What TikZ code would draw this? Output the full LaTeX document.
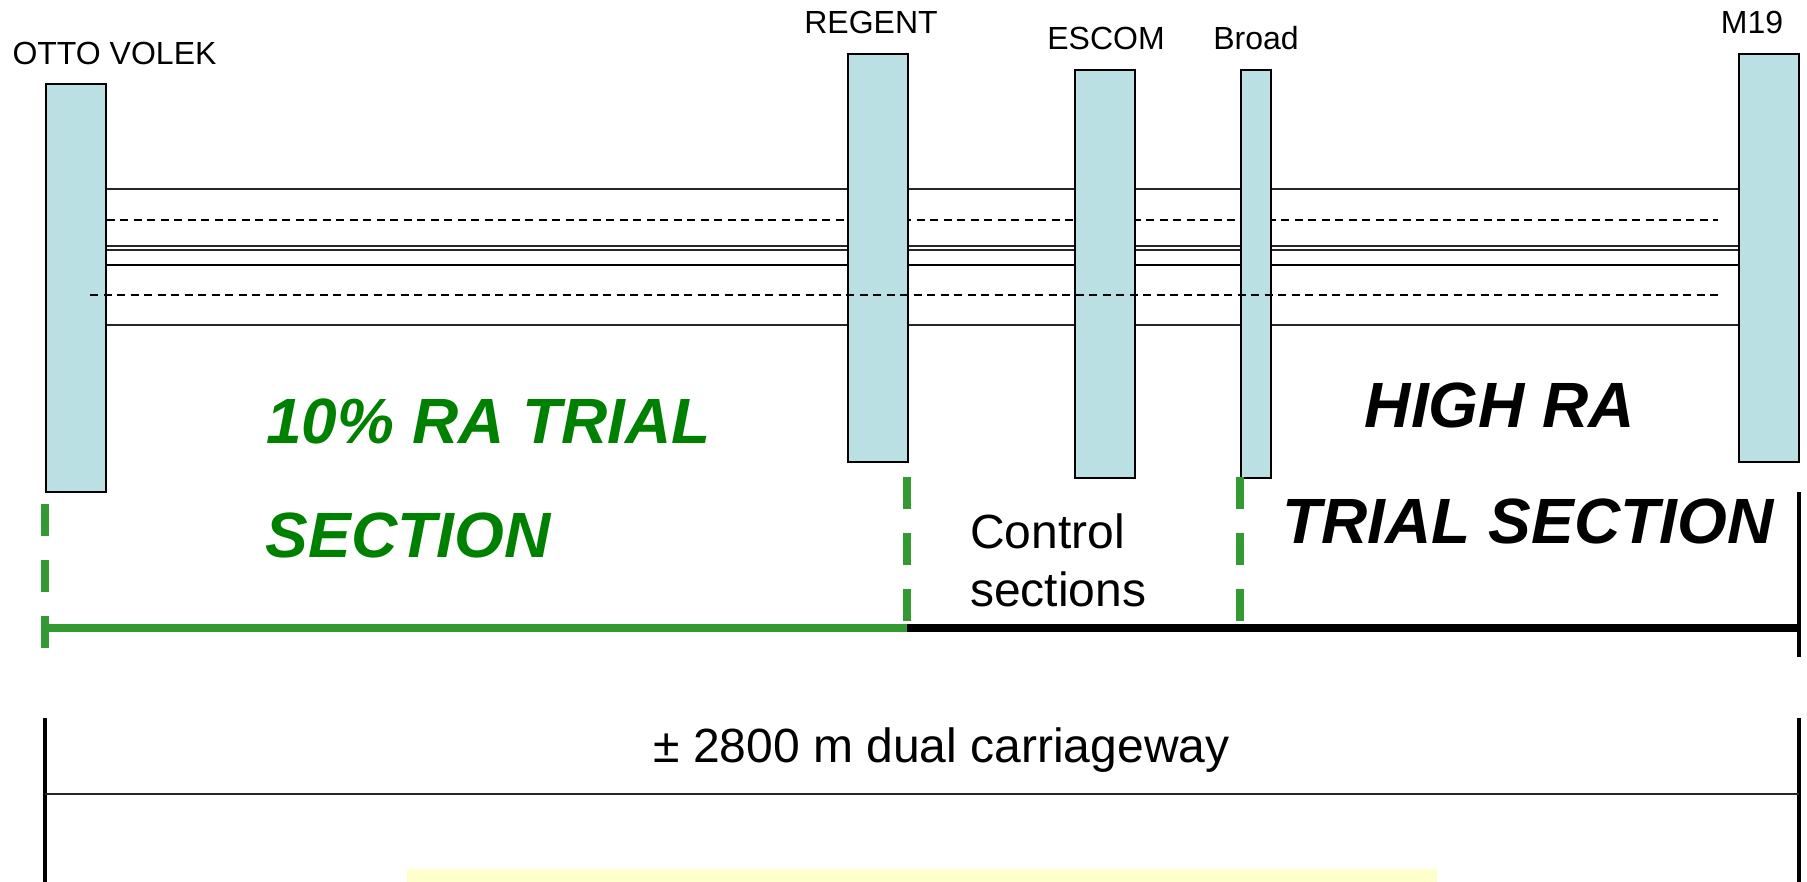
\documentclass[tikz,border=0pt]{standalone}
\usepackage{fontspec}
\setmainfont{Liberation Sans}
\usetikzlibrary{backgrounds}
\definecolor{boxblue}{RGB}{186,224,227}
\definecolor{lgreen}{RGB}{51,153,51}
\definecolor{tgreen}{RGB}{0,128,0}
\definecolor{lyellow}{RGB}{255,255,204}
\begin{document}
\begin{tikzpicture}[x=1pt,y=-1pt,
  pbox/.style={draw=black, line width=1.6pt, fill=boxblue, inner sep=0pt, anchor=north west},
  lbl/.style={inner sep=0pt, anchor=base, font=\fontsize{32}{38}\selectfont},
  big/.style={inner sep=0pt, anchor=base, font=\fontsize{64}{76}\selectfont\bfseries\itshape},
  mid/.style={inner sep=0pt, anchor=base west, font=\fontsize{48}{58}\selectfont},
  road/.style={line width=1.5pt, draw=black!85},
  rdash/.style={line width=1.8pt, draw=black, dash pattern=on 8pt off 5.5pt},
  gdash/.style={draw=lgreen, line width=7.5pt, dash pattern=on 32pt off 24pt},
  gline/.style={draw=lgreen, line width=7.5pt},
  bline/.style={draw=black, line width=7.5pt},
  vbar/.style={draw=black, line width=4pt},
]
\useasboundingbox (0,0) rectangle (1807,882);

% boxes (junctions)
\node[pbox, minimum width=60pt, minimum height=408pt] (otto) at (45,83) {};
\node[pbox, minimum width=60pt, minimum height=408pt] (regent) at (847,53) {};
\node[pbox, minimum width=60pt, minimum height=408pt] (escom) at (1074,69) {};
\node[pbox, minimum width=30pt, minimum height=408pt] (broad) at (1240,69) {};
\node[pbox, minimum width=60pt, minimum height=408pt] (m19) at (1738,53) {};

% labels
\node[lbl] (lotto) at (114.5,65) {OTTO VOLEK};
\node[lbl] (lregent) at (871,34) {REGENT};
\node[lbl] (lescom) at (1106,50) {ESCOM};
\node[lbl] (lbroad) at (1256,50) {Broad};
\node[lbl] (lm19) at (1752,34) {M19};

% road lines
\coordinate (dA) at (1718,220);
\coordinate (dB0) at (90,295);
\coordinate (dB1) at (1722,295);
\begin{scope}[on background layer]
  \foreach \yy in {189,246,250,325}
    \draw[road] (otto.east |- 0,\yy) -- (m19.west |- 0,\yy);
  \draw[road, line width=2.3pt, draw=black] (otto.east |- 0,265) -- (m19.west |- 0,265);
  \draw[rdash] (otto.east |- 0,220) -- (dA);
\end{scope}
\draw[rdash] (dB0) -- (dB1);

% section markers
\coordinate (g1a) at (45,504);  \coordinate (g1b) at (45,650);
\coordinate (g2a) at (907,477); \coordinate (g2b) at (907,623);
\coordinate (g3a) at (1240,477); \coordinate (g3b) at (1240,623);
\coordinate (h0) at (45,628); \coordinate (h1) at (907,628); \coordinate (h2) at (1799,628);
\coordinate (v1a) at (1799,492); \coordinate (v1b) at (1799,657);
\draw[gdash] (g1a) -- (g1b);
\draw[gdash] (g2a) -- (g2b);
\draw[gdash] (g3a) -- (g3b);
\draw[gline] (h0) -- (h1);
\draw[bline] (h1) -- (h2);
\draw[vbar] (v1a) -- (v1b);

% section texts
\node[big, text=tgreen] (t10) at (488.5,443) {10\% RA TRIAL};
\node[big, text=tgreen] (tsec) at (408,557) {SECTION};
\node[big] (thigh) at (1500,428) {HIGH RA};
\node[big] (ttrial) at (1528,543) {TRIAL SECTION};
\node[mid] (tctrl) at (970,548) {Control};
\node[mid] (tsecs) at (970,606) {sections};

% total length
\coordinate (b1a) at (45,718); \coordinate (b1b) at (45,890);
\coordinate (b2a) at (1799,718); \coordinate (b2b) at (1799,890);
\coordinate (m0) at (45,794); \coordinate (m1) at (1799,794);
\fill[lyellow] (407,869) rectangle (1437,882);
\draw[vbar] (b1a) -- (b1b);
\draw[vbar] (b2a) -- (b2b);
\draw[line width=1.5pt, draw=black!85] (m0) -- (m1);
\node[inner sep=0pt, anchor=base, font=\fontsize{48}{58}\selectfont] (tlen) at (941.5,762) {± 2800 m dual carriageway};
\end{tikzpicture}
\end{document}
